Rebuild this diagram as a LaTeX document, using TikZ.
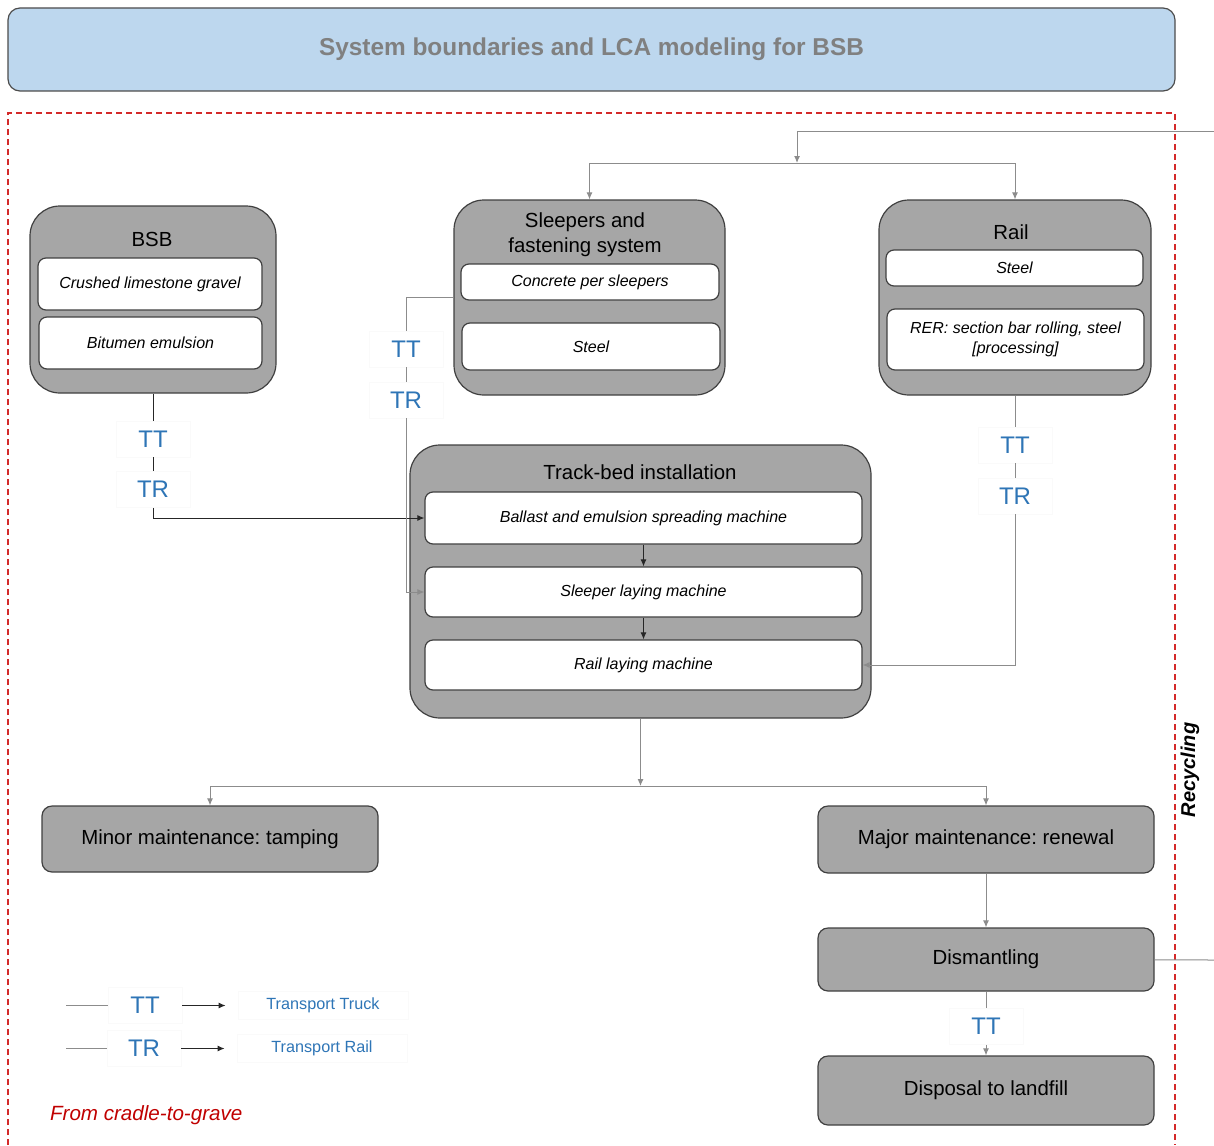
\documentclass[tikz,border=0pt]{standalone}
\usepackage{fontspec}
\setmainfont{Liberation Sans}
\frenchspacing
\usetikzlibrary{arrows.meta}
\definecolor{boxgray}{HTML}{A6A6A6}
\definecolor{titleblue}{HTML}{BDD7EE}
\definecolor{labelblue}{HTML}{2E75B6}
\definecolor{dashred}{HTML}{D42A2A}
\definecolor{gravered}{HTML}{C00000}
\definecolor{linegray}{HTML}{8C8C8C}
\tikzstyle{heading} = [rectangle, rounded corners=6pt, draw=black!70, line width=0.6pt, fill=titleblue, minimum width=583.5pt, minimum height=41.5pt, text=black!50, font=\fontsize{12.2}{14}\selectfont\bfseries]
\tikzstyle{groupbox} = [rectangle, rounded corners=15pt, draw=black!75, line width=0.6pt, fill=boxgray, inner sep=0pt]
\tikzstyle{grouptitle} = [align=center, font=\fontsize{10.2}{12.5}\selectfont]
\tikzstyle{itembox} = [rectangle, rounded corners=4pt, draw=black!75, line width=0.6pt, fill=white, inner sep=0pt, align=center, font=\fontsize{8}{10}\selectfont\itshape]
\tikzstyle{stagebox} = [rectangle, rounded corners=5pt, draw=black!75, line width=0.6pt, fill=boxgray, inner sep=0pt, minimum width=168pt, font=\fontsize{10.2}{12}\selectfont]
\tikzstyle{tlabel} = [rectangle, draw=black!2, fill=white, inner sep=0pt, minimum width=37pt, minimum height=18pt, text=labelblue, font=\fontsize{12}{14}\selectfont]
\tikzstyle{legtext} = [rectangle, draw=black!2, inner sep=0pt, minimum width=85pt, minimum height=14pt, text=labelblue, font=\fontsize{8.1}{10}\selectfont]
\tikzstyle{arrow} = [black!85, line width=0.5pt, -{Latex[length=3.5pt,width=3pt]}]
\tikzstyle{link} = [black!85, line width=0.5pt]
\tikzstyle{grayarrow} = [linegray, line width=0.5pt, -{Latex[length=3.5pt,width=3pt]}]
\tikzstyle{graylink} = [linegray, line width=0.5pt]
\begin{document}
\begin{tikzpicture}[x=0.5pt, y=-0.5pt]
            \useasboundingbox (0,0) rectangle (1214,1145);
            % header and system boundary
            \node [heading] at (591.5,49.5) (head) {System boundaries and LCA modeling for BSB};
            \draw [dashred, line width=0.6pt, dash pattern=on 3pt off 2pt] (8,1145) -- (8,113) -- (1175,113) -- (1175,1145);
            \node [rotate=90, font=\fontsize{10}{12}\selectfont\bfseries\itshape] at (1190,770) (recycling) {Recycling};

            % material groups
            \node [groupbox, minimum width=123pt, minimum height=93.5pt] at (153,299.5) (bsb) {};
            \node [grouptitle] at (152,239) (bsbtitle) {BSB};
            \node [itembox, minimum width=112pt, minimum height=26pt] at (150,284) (gravel) {Crushed limestone gravel};
            \node [itembox, minimum width=111.5pt, minimum height=26pt] at (150.5,343) (bitumen) {Bitumen emulsion};

            \node [groupbox, minimum width=135.5pt, minimum height=97.5pt] at (589.5,297.5) (sleepers) {};
            \node [grouptitle] at (585,235) (sleeperstitle) {Sleepers and\\fastening system};
            \node [itembox, minimum width=129pt, minimum height=18pt] at (590,282) (concrete) {Concrete per sleepers};
            \node [itembox, minimum width=129pt, minimum height=23.5pt] at (591,346.5) (steelA) {Steel};

            \node [groupbox, minimum width=136pt, minimum height=97.5pt] at (1015,297.5) (rail) {};
            \node [grouptitle] at (1011,232) (railtitle) {Rail};
            \node [itembox, minimum width=128.5pt, minimum height=18pt] at (1014.5,268) (steelB) {Steel};
            \node [itembox, minimum width=128.5pt, minimum height=30.5pt] at (1015.5,339.5) (rolling) {RER: section bar rolling, steel\\{[}processing{]}};

            % installation
            \node [groupbox, minimum width=230.5pt, minimum height=136.5pt] at (640.5,581.5) (trackbed) {};
            \node [grouptitle] at (640,472) (trackbedtitle) {Track-bed installation};
            \node [itembox, minimum width=218.5pt, minimum height=26pt] at (643.5,518) (spreading) {Ballast and emulsion spreading machine};
            \node [itembox, minimum width=218.5pt, minimum height=25pt] at (643.5,592) (sleeperlay) {Sleeper laying machine};
            \node [itembox, minimum width=218.5pt, minimum height=25pt] at (643.5,665) (raillay) {Rail laying machine};

            % use and end of life
            \node [stagebox, minimum height=33pt] at (210,839) (minor) {Minor maintenance: tamping};
            \node [stagebox, minimum height=33.5pt] at (986,839.5) (major) {Major maintenance: renewal};
            \node [stagebox, minimum height=31.5pt] at (986,959.5) (dismantling) {Dismantling};
            \node [stagebox, minimum height=34.5pt] at (986,1090.5) (landfill) {Disposal to landfill};

            % transport labels
            \node [tlabel] at (153,439) (ttA) {TT};
            \node [tlabel] at (153,489.5) (trA) {TR};
            \node [tlabel] at (406,349) (ttB) {TT};
            \node [tlabel] at (406,400) (trB) {TR};
            \node [tlabel] at (1015,445) (ttC) {TT};
            \node [tlabel] at (1015,496) (trC) {TR};
            \node [tlabel] at (986,1026.5) (ttD) {TT};

            % recycling loop
            \coordinate (recin) at (1214,131);
            \coordinate (split) at (797,163);
            \coordinate (recout) at (1214,960);
            \coordinate (fork) at (640.5,786);

            \draw [grayarrow] (recin) -| (split);
            \draw [grayarrow] (split) -| (sleepers);
            \draw [grayarrow] (split) -| (rail);
            \draw [link] (bsb) -- (ttA);
            \draw [link] (ttA) -- (trA);
            \draw [arrow] (trA) |- (spreading);
            \draw [graylink] (sleepers.west) -| (ttB);
            \draw [graylink] (ttB) -- (trB);
            \draw [grayarrow] (trB) |- (sleeperlay);
            \draw [graylink] (rail) -- (ttC);
            \draw [graylink] (ttC) -- (trC);
            \draw [grayarrow] (trC) |- (raillay);
            \draw [arrow] (spreading) -- (sleeperlay);
            \draw [arrow] (sleeperlay) -- (raillay);
            \draw [grayarrow] (trackbed) -- (fork);
            \draw [grayarrow] (fork) -| (minor);
            \draw [grayarrow] (fork) -| (major);
            \draw [grayarrow] (major) -- (dismantling);
            \draw [graylink] (dismantling) -- (ttD);
            \draw [grayarrow] (ttD) -- (landfill);
            \draw [graylink] (dismantling) -- (recout);

            % legend
            \coordinate (legA) at (66,1005.5);
            \coordinate (legB) at (66,1048.5);
            \node [tlabel] at (145,1005.5) (legtt) {TT};
            \node [tlabel] at (144,1048.5) (legtr) {TR};
            \node [legtext] at (323,1005.5) (legtruck) {Transport Truck};
            \node [legtext] at (322,1048.5) (legrail) {Transport Rail};
            \draw [graylink] (legA) -- (legtt);
            \draw [graylink] (legB) -- (legtr);
            \draw [arrow, shorten >=6pt] (legtt) -- (legtruck);
            \draw [arrow, shorten >=6pt] (legtr) -- (legrail);
            \node [anchor=west, text=gravered, font=\fontsize{10.3}{12}\selectfont\itshape] at (43,1115) (grave) {From cradle-to-grave};
\end{tikzpicture}
\end{document}
